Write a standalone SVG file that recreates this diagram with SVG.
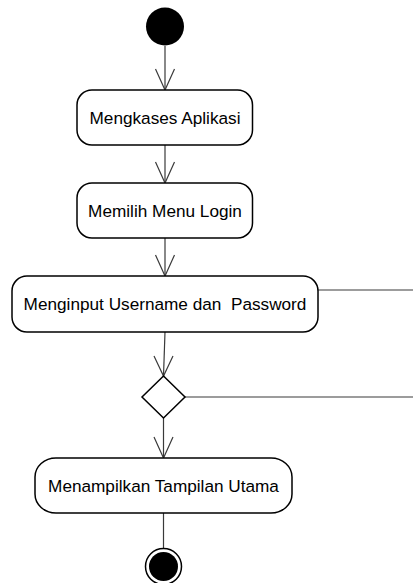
<svg xmlns="http://www.w3.org/2000/svg" width="413" height="583" viewBox="0 0 413 583">
  <style>
    .act { fill: #ffffff; stroke: #000000; stroke-width: 1.5; }
    .lbl { font-family: "Liberation Sans", Arial, sans-serif; font-size: 17.2px; fill: #000000; text-anchor: middle; white-space: pre; }
    .flow { fill: none; stroke: #3a3a3a; stroke-width: 1.2; }
    .head { fill: none; stroke: #3a3a3a; stroke-width: 1.2; }
  </style>
  <rect width="413" height="583" fill="#ffffff"/>

  <!-- connectors -->
  <g id="connectors">
    <line class="flow" x1="165" y1="46" x2="165" y2="90"/>
    <polyline class="head" points="155.5,69 165,90 174.5,69"/>

    <line class="flow" x1="165" y1="145" x2="165" y2="183"/>
    <polyline class="head" points="155.5,162 165,183 174.5,162"/>

    <line class="flow" x1="165" y1="238" x2="165" y2="276"/>
    <polyline class="head" points="155.5,255 165,276 174.5,255"/>

    <line class="flow" x1="318" y1="290" x2="413" y2="290"/>

    <line class="flow" x1="165" y1="332" x2="163.5" y2="376"/>
    <polyline class="head" points="154,356 163.5,376 173,356"/>

    <line class="flow" x1="185" y1="397" x2="413" y2="397"/>

    <line class="flow" x1="163.5" y1="418" x2="163.5" y2="458"/>
    <polyline class="head" points="154,437 163.5,458 173,437"/>

    <line class="flow" x1="163.5" y1="513" x2="163.5" y2="548"/>
  </g>

  <!-- start node -->
  <g id="start">
    <circle cx="165" cy="26.5" r="19" fill="#000000"/>
  </g>

  <g id="mengakses-aplikasi">
    <rect class="act" x="77" y="90" width="175.5" height="55" rx="15" ry="15"/>
    <text class="lbl" x="165" y="124">Mengkases Aplikasi</text>
  </g>

  <g id="memilih-menu-login">
    <rect class="act" x="77" y="183" width="175.5" height="55" rx="15" ry="15"/>
    <text class="lbl" x="165" y="217">Memilih Menu Login</text>
  </g>

  <g id="menginput-username">
    <rect class="act" x="12" y="276" width="306" height="56" rx="15" ry="15"/>
    <text class="lbl" x="165" y="309.5">Menginput Username dan  Password</text>
  </g>

  <!-- decision -->
  <g id="decision">
    <polygon class="act" points="163.5,376 185,397 163.5,418 142,397"/>
  </g>

  <g id="menampilkan-tampilan-utama">
    <rect class="act" x="35" y="458" width="257" height="55" rx="21" ry="19"/>
    <text class="lbl" x="163.5" y="492">Menampilkan Tampilan Utama</text>
  </g>

  <!-- final node -->
  <g id="end">
    <circle cx="163.5" cy="566.5" r="18" fill="#ffffff" stroke="#000000" stroke-width="1.5"/>
    <circle cx="163.5" cy="566.5" r="14.5" fill="#000000"/>
  </g>
</svg>
